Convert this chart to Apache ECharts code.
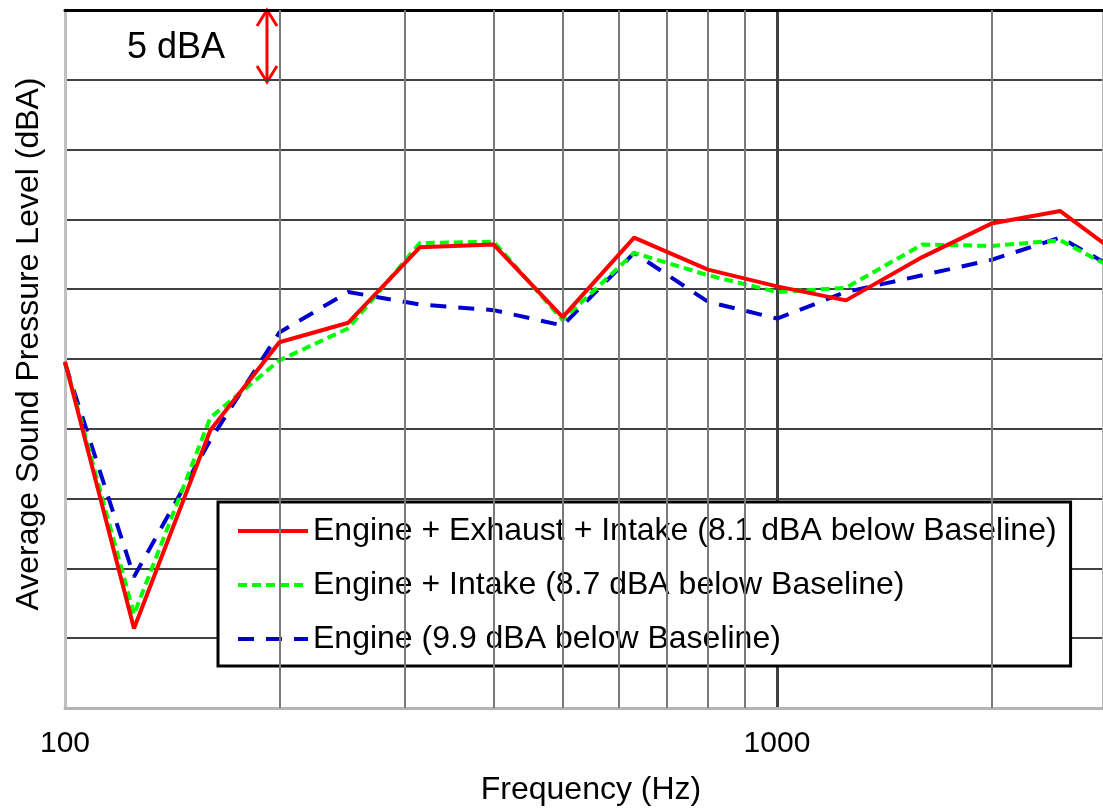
<!DOCTYPE html>
<html>
<head>
<meta charset="utf-8">
<script src="https://cdn.jsdelivr.net/npm/echarts@6/dist/echarts.min.js"></script>
<style>
  html, body { margin: 0; padding: 0; background: #fff; }
  #chart { width: 1103px; height: 809px; }
</style>
</head>
<body>
<div id="chart"></div>
<script>
// 1/3 octave centre frequencies (Hz)
var freqs = [100, 125, 160, 200, 250, 315, 400, 500, 630, 800, 1000, 1250, 1600, 2000, 2500, 3150];

var names = [
    'Engine + Exhaust + Intake (8.1 dBA below Baseline)',
    'Engine + Intake (8.7 dBA below Baseline)',
    'Engine (9.9 dBA below Baseline)'
];

// dBA, relative scale (5 dBA per grid step)
var engExhInt = [24.8, 5.7, 19.9, 26.2, 27.6, 33.0, 33.2, 28.0, 33.7, 31.4, 30.2, 29.2, 32.3, 34.7, 35.6, 31.8];
var engInt    = [24.8, 6.7, 20.8, 24.9, 27.2, 33.3, 33.4, 27.8, 32.6, 31.0, 29.8, 30.1, 33.2, 33.1, 33.5, 30.8];
var engOnly   = [24.7, 9.4, 19.2, 26.9, 29.8, 28.9, 28.5, 27.4, 32.6, 29.1, 27.9, 29.8, 31.0, 32.1, 33.7, 30.8];

// minor log grid lines
var minorGrid = [200, 300, 400, 500, 600, 700, 800, 900, 2000];

var font = 'Liberation Sans, Arial, sans-serif';

function pairs(vals) {
    return freqs.map(function (f, i) { return [f, vals[i]]; });
}

var chart = echarts.init(document.getElementById('chart'));

chart.setOption({
    animation: false,
    backgroundColor: '#fff',
    textStyle: {fontFamily: font},
    grid: {left: 65, right: 0, top: 10, bottom: 101, containLabel: false, outerBoundsMode: 'none'},
    xAxis: [
        {
            type: 'log',
            logBase: 10,
            min: 100,
            max: 2870,
            name: 'Frequency (Hz)',
            nameLocation: 'middle',
            nameGap: 66,
            nameTextStyle: {fontSize: 32, color: '#000', fontFamily: font, padding: [0, 0, 0, 14]},
            axisLine: {show: true, lineStyle: {color: '#b4b4b4', width: 3}},
            axisTick: {show: false},
            axisLabel: {
                fontSize: 30, color: '#000', fontFamily: font, margin: 21, showMaxLabel: false,
                formatter: function (v) { return String(Math.round(v)); }
            },
            splitLine: {show: true, lineStyle: {color: ['#b4b4b4', '#404040'], width: 3}}
        },
        {
            type: 'value',
            position: 'top',
            min: 0,
            max: 1,
            axisLine: {show: true, lineStyle: {color: '#000', width: 3}},
            axisTick: {show: false},
            axisLabel: {show: false},
            splitLine: {show: false}
        }
    ],
    yAxis: {
        type: 'value',
        min: 0,
        max: 50,
        interval: 5,
        name: 'Average Sound Pressure Level (dBA)',
        nameLocation: 'middle',
        nameGap: 20,
        nameRotate: 90,
        nameTextStyle: {fontSize: 32, color: '#000', fontFamily: font, padding: [0, 0, 0, 30]},
        axisLine: {show: true, lineStyle: {color: '#c0c0c0', width: 3}},
        axisTick: {show: false},
        axisLabel: {show: false},
        splitLine: {show: true, lineStyle: {color: '#404040', width: 2}}
    },
    legend: {
        data: names,
        orient: 'vertical',
        left: 218,
        top: 502,
        padding: [12, 14, 10, 18],
        itemGap: 20,
        itemWidth: 70,
        itemHeight: 20,
        backgroundColor: '#fff',
        borderColor: '#000',
        borderWidth: 3,
        borderRadius: 0,
        itemStyle: {color: 'rgba(0,0,0,0)', borderWidth: 0, opacity: 0},
        lineStyle: {width: 4},
        textStyle: {fontSize: 32, color: '#000', fontFamily: font, lineHeight: 34}
    },
    series: [
        {
            name: 'grid',
            type: 'line',
            z: 1,
            data: [],
            silent: true,
            markLine: {
                silent: true,
                symbol: ['none', 'none'],
                label: {show: false},
                lineStyle: {type: 'solid', color: '#7a7a7a', width: 2},
                data: minorGrid.map(function (f) { return {xAxis: f}; })
            }
        },
        {
            name: names[0],
            type: 'line',
            z: 5,
            symbol: 'none',
            data: pairs(engExhInt),
            lineStyle: {color: '#ff0000', width: 4, type: 'solid'},
            itemStyle: {color: '#ff0000'}
        },
        {
            name: names[1],
            type: 'line',
            z: 4,
            symbol: 'none',
            data: pairs(engInt),
            lineStyle: {color: '#00ff00', width: 4, type: [9, 5]},
            itemStyle: {color: '#00ff00'}
        },
        {
            name: names[2],
            type: 'line',
            z: 3,
            symbol: 'none',
            data: pairs(engOnly),
            lineStyle: {color: '#0000cc', width: 4, type: [16, 12]},
            itemStyle: {color: '#0000cc'}
        }
    ],
    graphic: [
        {
            type: 'text',
            left: 127,
            top: 30,
            style: {text: '5 dBA', fontSize: 36, fill: '#000', font: '36px ' + font}
        },
        {
            type: 'group',
            children: [
                {type: 'line', shape: {x1: 267, y1: 11, x2: 267, y2: 81}, style: {stroke: '#ff0000', lineWidth: 3}},
                {type: 'polyline', shape: {points: [[257, 26], [267, 10], [277, 26]]}, style: {stroke: '#ff0000', lineWidth: 3, fill: null}},
                {type: 'polyline', shape: {points: [[257, 66], [267, 82], [277, 66]]}, style: {stroke: '#ff0000', lineWidth: 3, fill: null}}
            ]
        }
    ]
});
</script>
</body>
</html>
